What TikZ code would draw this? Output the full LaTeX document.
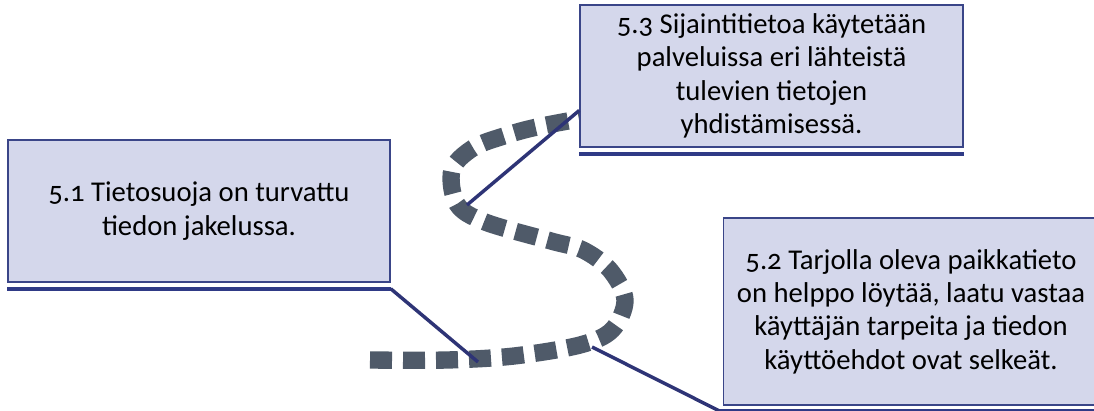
\documentclass[tikz,border=0pt]{standalone}
\usepackage{fontspec}
\usetikzlibrary{calc}
\setmainfont{Carlito}[Numbers=OldStyle]
\definecolor{boxfill}{HTML}{D4D7EB}
\definecolor{boxline}{HTML}{3A4588}
\definecolor{uline}{HTML}{2F3A86}
\definecolor{conn}{HTML}{2E3476}
\definecolor{pathgray}{HTML}{4F5A69}
\begin{document}
\begin{tikzpicture}[x=0.75pt,y=-0.75pt,
  infobox/.style={draw=boxline,line width=1.1pt,fill=boxfill,inner sep=0pt,
    align=center,font=\fontsize{21.5}{25}\selectfont,text=black},
  boxtext/.style={inner sep=0pt,align=center,font=\fontsize{21.5}{25}\selectfont,text=black},
  underline/.style={draw=uline,line width=3pt},
  connector/.style={draw=conn,line width=2.6pt},
  road/.style={draw=pathgray,line width=13pt,dash pattern=on 16.5pt off 8.25pt}]
\useasboundingbox (0,0) rectangle (1094,410);
\clip (0,0) rectangle (1094,410);
% S-shaped dashed road
\draw[road] plot[smooth,tension=0.55] coordinates {
  (370,360) (447,360) (514,356) (580,345) (612,330) (625,300) (610,270)
  (583,250) (551,241) (485,222) (457,204) (452,170) (473,148) (504,136)
  (537,127) (590,117)};
% points on the road
\coordinate (p1) at (478,362);
\coordinate (p3) at (467,205);
\coordinate (p2) at (592,347);
% boxes
\node[infobox,minimum width=286.5pt,minimum height=106.5pt] (b51) at (199,211)
  {5.1 Tietosuoja on turvattu\\tiedon jakelussa.};
\node[infobox,minimum width=287.25pt,minimum height=106.5pt] (b53) at (771.5,76)
  {5.3 Sijaintitietoa käytetään\\palveluissa eri lähteistä\\tulevien tietojen\\yhdistämisessä.};
\node[infobox,minimum width=310pt,minimum height=140.25pt,anchor=west] (b52) at (723,311.5) {};
\node[boxtext] (t52) at (911,311.5)
  {5.2 Tarjolla oleva paikkatieto\\on helppo löytää, laatu vastaa\\käyttäjän tarpeita ja tiedon\\käyttöehdot ovat selkeät.};
% underlines
\coordinate (u1l) at ($(b51.south west)+(0,6)$);
\coordinate (u1r) at ($(b51.south east)+(0,6)$);
\coordinate (u3l) at ($(b53.south west)+(0,6)$);
\coordinate (u3r) at ($(b53.south east)+(0,6)$);
\coordinate (u2l) at ($(b52.south west)+(-4,5)$);
\coordinate (u2r) at ($(b52.south east)+(0,5)$);
\draw[underline] (u1l) -- (u1r);
\draw[underline] (u3l) -- (u3r);
\draw[underline] (u2l) -- (u2r);
% connectors
\coordinate (a3) at ($(b53.north west)!0.74!(b53.south west)$);
\draw[connector] (u1r) -- (p1);
\draw[connector] (a3) -- (p3);
\draw[connector] (p2) -- (u2l);
\end{tikzpicture}
\end{document}
